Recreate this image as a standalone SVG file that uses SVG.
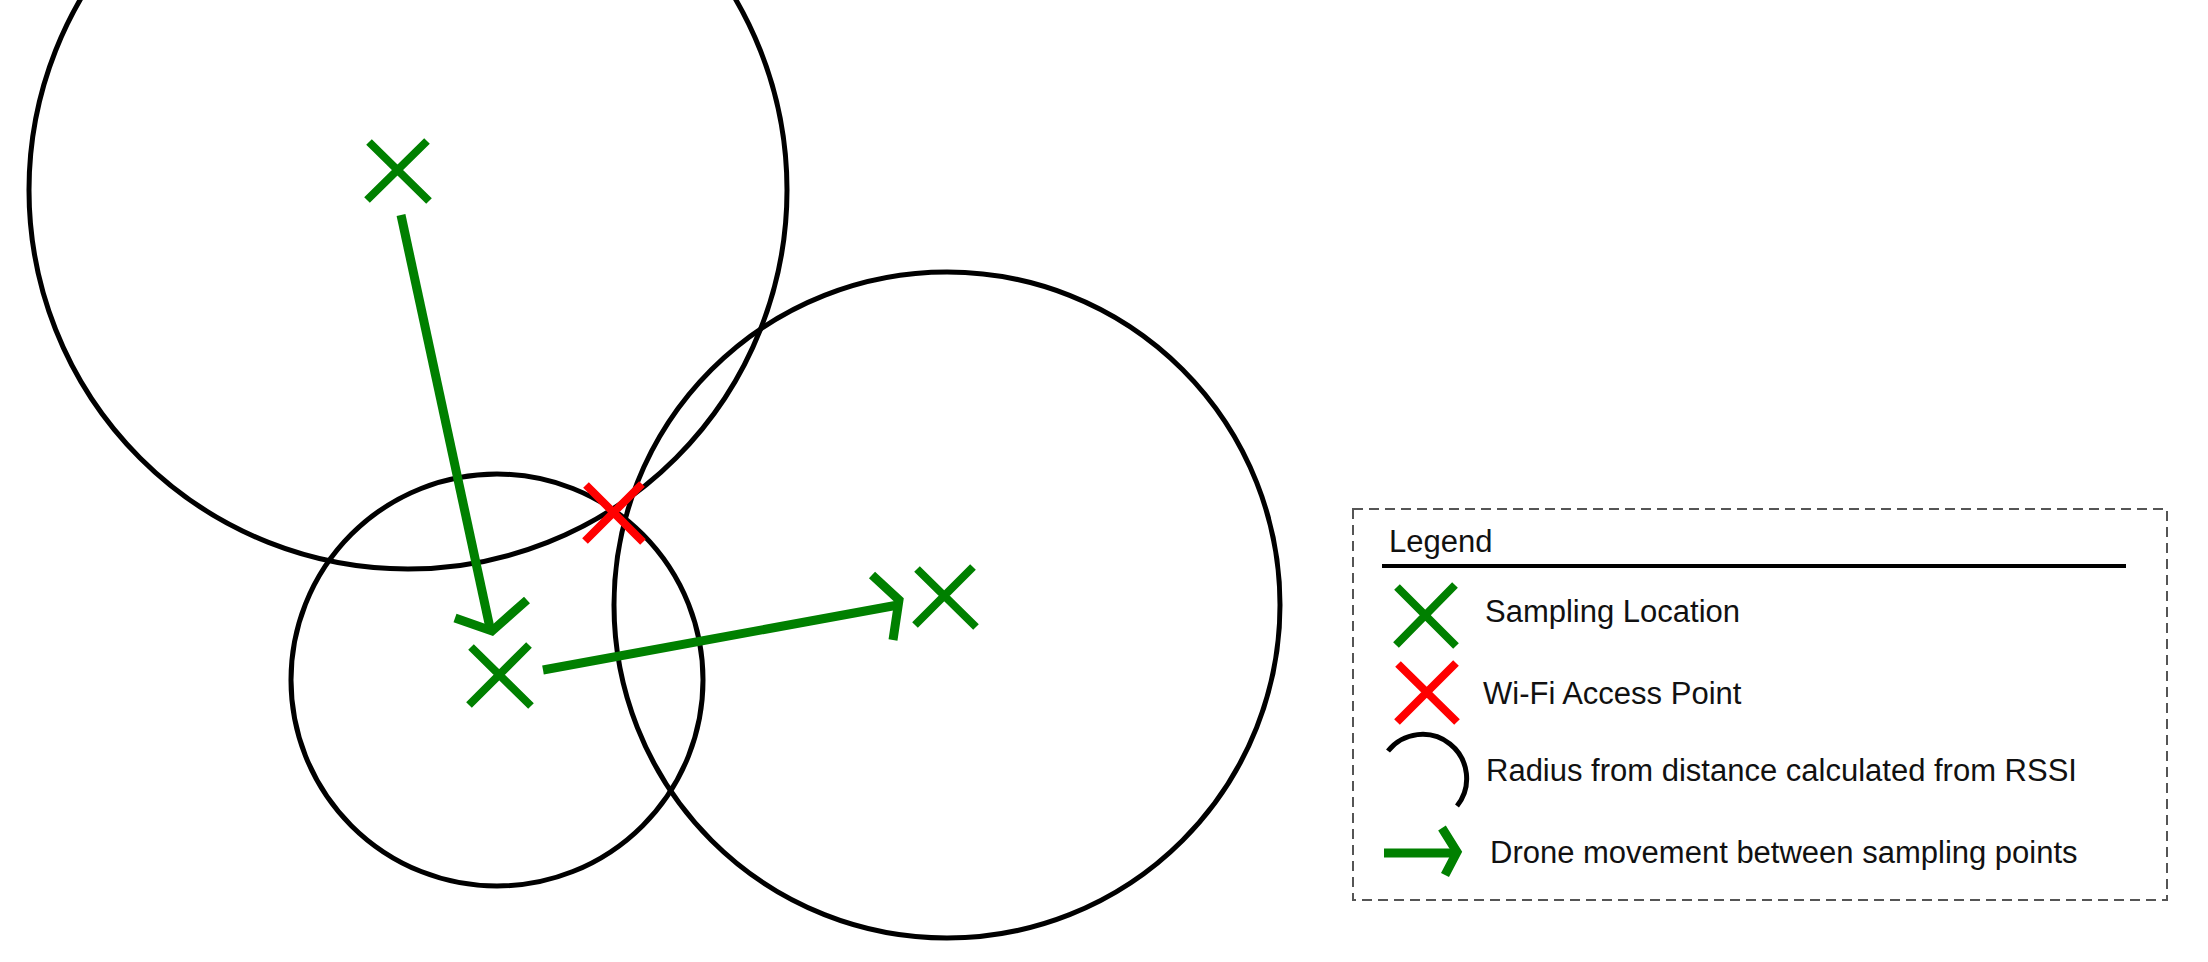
<svg xmlns="http://www.w3.org/2000/svg" width="2208" height="962" viewBox="0 0 2208 962">
<style>
.circ{fill:none;stroke:#000;stroke-width:5}
.gx{fill:none;stroke:#008000;stroke-width:8}
.rx{fill:none;stroke:#ff0000;stroke-width:8}
.mv{fill:none;stroke:#008000;stroke-width:9;stroke-linejoin:miter}
.txt{font-family:"Liberation Sans",Arial,sans-serif;font-size:31px;fill:#111}
</style>
<rect width="2208" height="962" fill="#fff"/>
<g id="circles">
<circle id="circle-a" class="circ" cx="408" cy="190" r="379"/>
<circle id="circle-b" class="circ" cx="497" cy="680" r="206"/>
<circle id="circle-c" class="circ" cx="947" cy="605" r="333"/>
</g>
<g id="connectors">
<path class="mv" d="M401,215 L490,628"/>
<path class="mv" d="M455,618 L492,631 L527,600"/>
<path class="mv" d="M543,670 L898,605"/>
<path class="mv" d="M872,575 L899,600 L893,640"/>
</g>
<g id="sample-1"><path class="gx" d="M369,142 L429,201 M427,141 L367,200"/></g>
<g id="sample-2"><path class="gx" d="M471,647 L531,706 M529,645 L469,705"/></g>
<g id="sample-3"><path class="gx" d="M917,569 L976,627 M973,567 L915,625"/></g>
<g id="access-point"><path class="rx" d="M586,485 L643,542 M642,484 L585,541"/></g>
<g id="legend">
<rect x="1353" y="509" width="814" height="391" fill="none" stroke="#555" stroke-width="2" stroke-dasharray="10,6"/>
<text class="txt" x="1389" y="552">Legend</text>
<line x1="1382" y1="566" x2="2126" y2="566" stroke="#000" stroke-width="4"/>
<path class="gx" d="M1397,587 L1456,646 M1455,585 L1396,645"/>
<text class="txt" x="1485" y="622">Sampling Location</text>
<path class="rx" d="M1398,664 L1457,722 M1456,663 L1397,722"/>
<text class="txt" x="1483" y="704">Wi-Fi Access Point</text>
<path fill="none" stroke="#000" stroke-width="5" d="M1388,751 A44,44 0 1 1 1457,806"/>
<text class="txt" x="1486" y="781">Radius from distance calculated from RSSI</text>
<path class="mv" d="M1384,853 L1456,853"/>
<path class="mv" d="M1442,828 L1457,852 L1445,875"/>
<text class="txt" x="1490" y="863">Drone movement between sampling points</text>
</g>
</svg>
